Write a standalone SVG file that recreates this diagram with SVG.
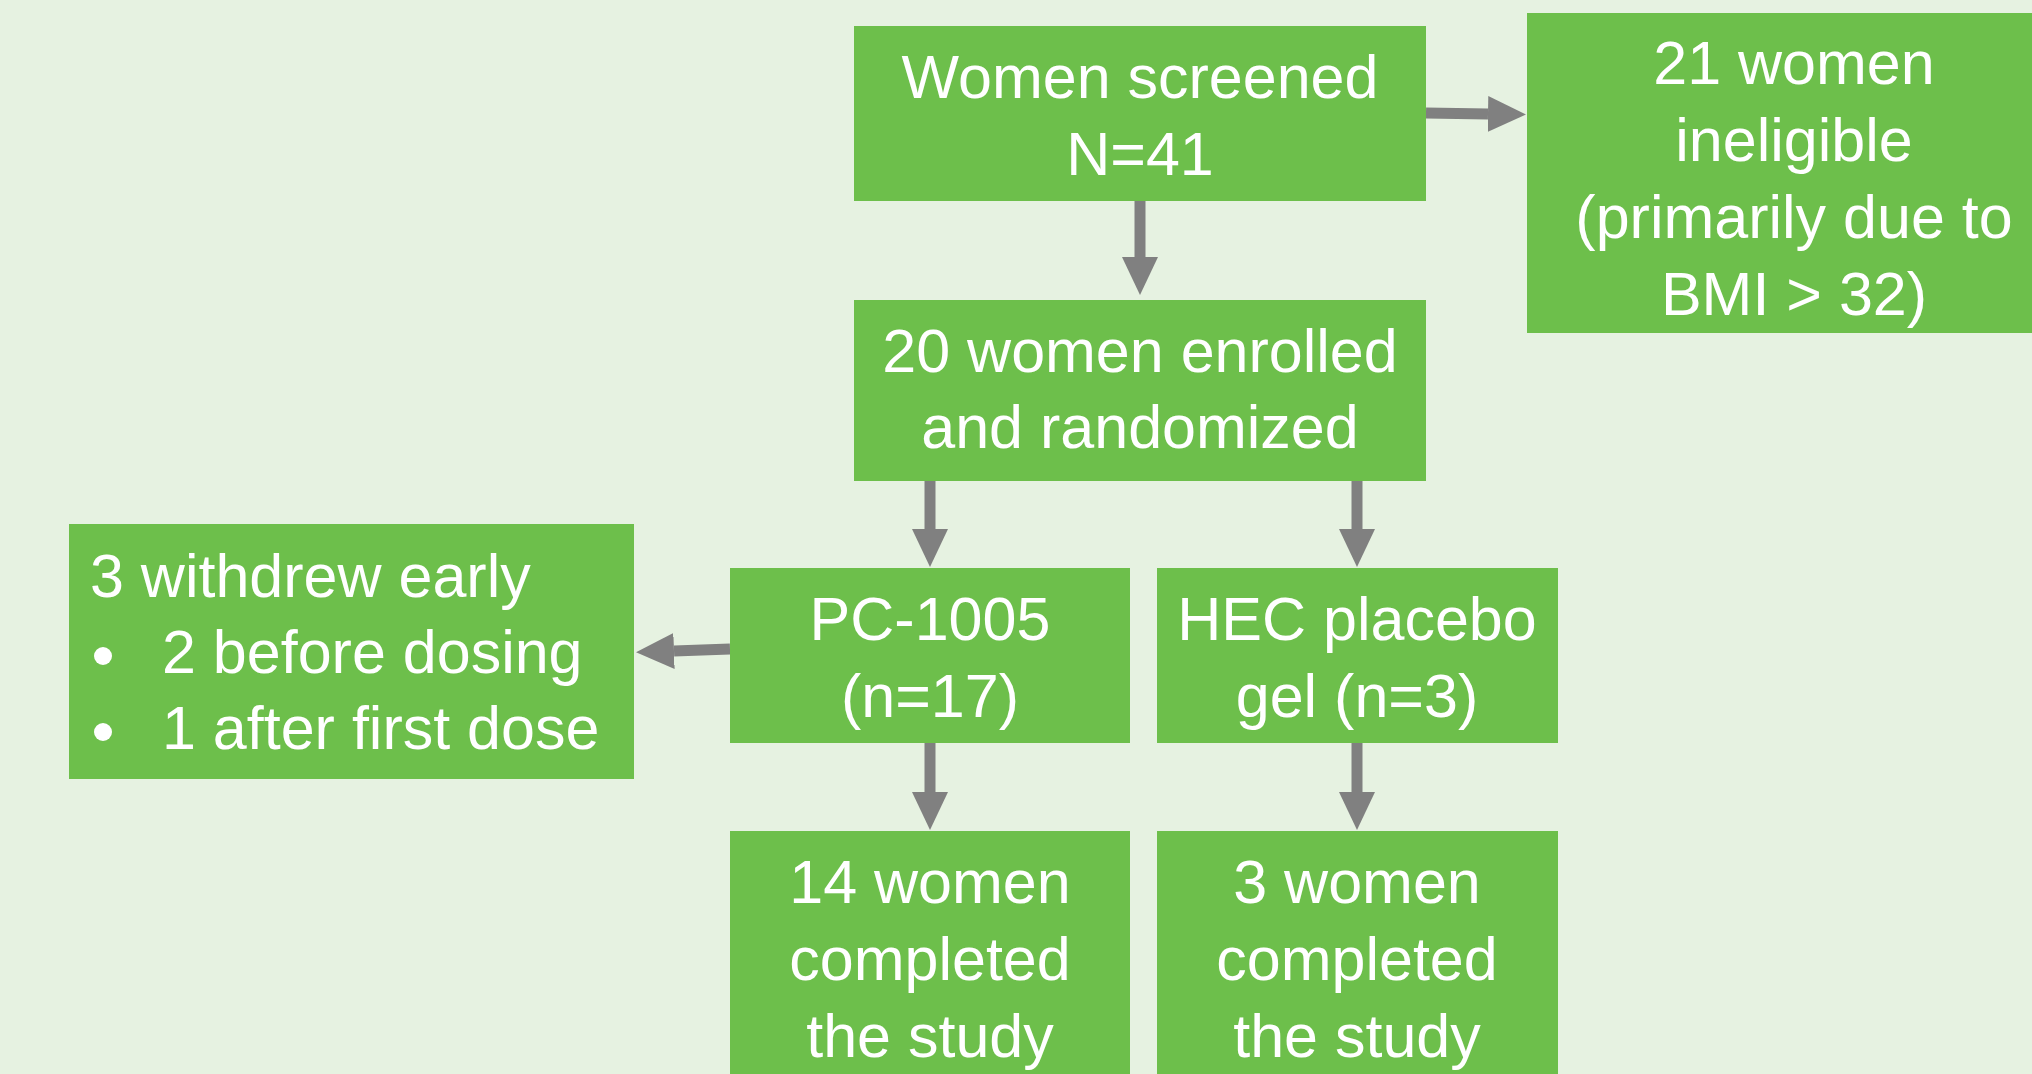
<svg xmlns="http://www.w3.org/2000/svg" width="2032" height="1074" viewBox="0 0 2032 1074">
<style>
.box{fill:#6DBF4B}
.t{font-family:"Liberation Sans",Arial,sans-serif;font-size:61px;fill:#FFFFFF}
.c{text-anchor:middle}
.conn{stroke:#808080;stroke-width:11;fill:none}
</style>
<defs>
<marker id="ah" markerUnits="userSpaceOnUse" markerWidth="40" markerHeight="38" refX="0" refY="18" orient="auto" viewBox="0 0 40 38">
<path d="M0,0 L38,18 L0,36 Z" fill="#808080"/>
</marker>
</defs>
<rect width="2032" height="1074" fill="#E6F2E1"/>
<g id="connectors">
<line class="conn" x1="1140" y1="201" x2="1140" y2="257" marker-end="url(#ah)"/>
<line class="conn" x1="1426" y1="113" x2="1488" y2="114" marker-end="url(#ah)"/>
<line class="conn" x1="930" y1="481" x2="930" y2="529" marker-end="url(#ah)"/>
<line class="conn" x1="1357" y1="481" x2="1357" y2="529" marker-end="url(#ah)"/>
<line class="conn" x1="730" y1="649" x2="674" y2="651" marker-end="url(#ah)"/>
<line class="conn" x1="930" y1="743" x2="930" y2="792" marker-end="url(#ah)"/>
<line class="conn" x1="1357" y1="743" x2="1357" y2="792" marker-end="url(#ah)"/>
</g>
<g id="screened">
<rect class="box" x="854" y="26" width="572" height="175"/>
<text class="t c" x="1140" y="98">Women screened</text>
<text class="t c" x="1140" y="175">N=41</text>
</g>
<g id="ineligible">
<rect class="box" x="1527" y="13" width="520" height="320"/>
<text class="t c" x="1794" y="84">21 women</text>
<text class="t c" x="1794" y="161">ineligible</text>
<text class="t c" x="1794" y="238">(primarily due to</text>
<text class="t c" x="1794" y="315">BMI &gt; 32)</text>
</g>
<g id="enrolled">
<rect class="box" x="854" y="300" width="572" height="181"/>
<text class="t c" x="1140" y="372">20 women enrolled</text>
<text class="t c" x="1140" y="448">and randomized</text>
</g>
<g id="withdrew">
<rect class="box" x="69" y="524" width="565" height="255"/>
<text class="t" x="90" y="597">3 withdrew early</text>
<circle cx="103" cy="656" r="9" fill="#FFFFFF"/>
<text class="t" x="162" y="673">2 before dosing</text>
<circle cx="103" cy="732" r="9" fill="#FFFFFF"/>
<text class="t" x="162" y="749">1 after first dose</text>
</g>
<g id="pc1005">
<rect class="box" x="730" y="568" width="400" height="175"/>
<text class="t c" x="930" y="640">PC-1005</text>
<text class="t c" x="930" y="717">(n=17)</text>
</g>
<g id="hec">
<rect class="box" x="1157" y="568" width="401" height="175"/>
<text class="t c" x="1357" y="640">HEC placebo</text>
<text class="t c" x="1357" y="717">gel (n=3)</text>
</g>
<g id="completed14">
<rect class="box" x="730" y="831" width="400" height="250"/>
<text class="t c" x="930" y="903">14 women</text>
<text class="t c" x="930" y="980">completed</text>
<text class="t c" x="930" y="1057">the study</text>
</g>
<g id="completed3">
<rect class="box" x="1157" y="831" width="401" height="250"/>
<text class="t c" x="1357" y="903">3 women</text>
<text class="t c" x="1357" y="980">completed</text>
<text class="t c" x="1357" y="1057">the study</text>
</g>
</svg>
